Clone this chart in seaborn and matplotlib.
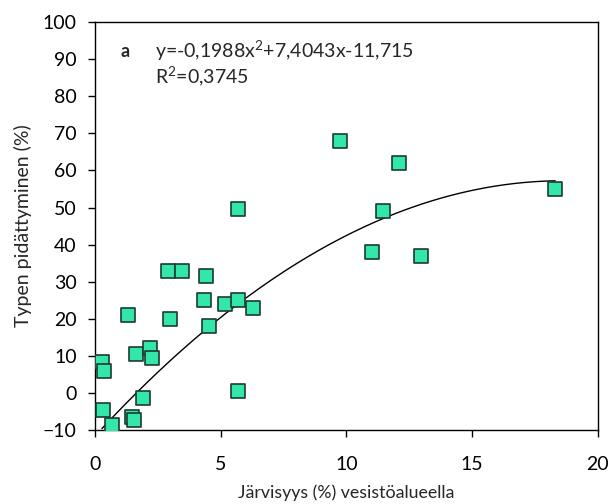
import numpy as np
import pandas as pd
import matplotlib
matplotlib.use("Agg")
import matplotlib.pyplot as plt
import seaborn as sns

# Data
lake_pct = [0.28, 0.36, 0.33, 0.67, 1.33, 1.47, 1.55, 1.63, 1.9, 2.2, 2.26,
            2.98, 2.9, 3.45, 4.4, 4.35, 4.55, 5.17, 5.7, 6.28, 5.7, 5.7,
            9.74, 12.1, 11.45, 18.3, 11.0, 12.96]
retention = [8.4, 5.9, -4.6, -8.6, 21.0, -6.6, -7.3, 10.5, -1.4, 12.0, 9.4,
             20.0, 33.0, 33.0, 31.5, 25.0, 18.0, 24.0, 25.0, 23.0, 0.5, 49.5,
             68.0, 62.0, 49.0, 55.0, 38.0, 37.0]
# Trend-line coefficients shown on the chart (a2, a1, a0)
coef = [-0.1988, 7.4043, -11.715]
x_ticks = [0, 5, 10, 15, 20]
y_ticks = [-10, 0, 10, 20, 30, 40, 50, 60, 70, 80, 90, 100]

sns.set_theme(style="white")
plt.rcParams['font.family'] = ['Lato', 'DejaVu Sans']
plt.rcParams['mathtext.fontset'] = 'custom'
plt.rcParams['mathtext.rm'] = 'Lato'
plt.rcParams['mathtext.it'] = 'Lato:italic'

df = pd.DataFrame({"x": lake_pct, "y": retention})
xs = np.linspace(min(lake_pct), max(lake_pct), 200)
trend = pd.DataFrame({"x": xs, "y": np.polyval(coef, xs)})

fig = plt.figure(figsize=(6.12, 5.04), dpi=100)
ax = fig.add_axes([0.155, 0.147, 0.822, 0.809])

sns.lineplot(data=trend, x="x", y="y", ax=ax, color="black", linewidth=1.0, zorder=2)
sns.scatterplot(data=df, x="x", y="y", ax=ax, marker="s", s=90,
                color="#33e6aa", edgecolor="#1f3a30", linewidth=1.2, zorder=3)

ax.set_xlim(0, 20)
ax.set_ylim(-10, 100)
ax.set_xticks(x_ticks)
ax.set_yticks(y_ticks)
ax.tick_params(axis="both", which="major", direction="out", length=5, width=1,
               colors="black", labelsize=14, bottom=True, left=True)
ax.tick_params(axis="x", pad=14)
ax.tick_params(axis="y", pad=8)
for sp in ax.spines.values():
    sp.set_color("black")
    sp.set_linewidth(1.0)

ax.set_xlabel("Järvisyys (%) vesistöalueella", fontsize=12.8, labelpad=8)
ax.set_ylabel("Typen pidättyminen (%)", fontsize=14, labelpad=8)

ax.text(1.0, 92.2, "a", fontsize=13, va="center", ha="left", fontweight="bold")
ax.text(2.4, 92.2, r"y=-0,1988x$^{2}$+7,4043x-11,715", fontsize=14, va="center", ha="left")
ax.text(2.4, 85.4, r"R$^{2}$=0,3745", fontsize=14, va="center", ha="left")

fig.savefig("out.png", dpi=100)
